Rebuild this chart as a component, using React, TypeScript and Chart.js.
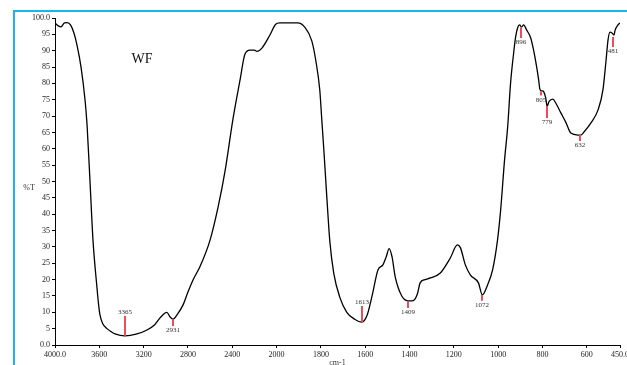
import React, { useEffect, useRef } from "react";
import { Chart, registerables, LinearScale } from "chart.js";

Chart.register(...registerables);

// ---- data ----
const wavenumbers: number[] = [
  4000, 3970, 3946, 3915, 3890, 3860, 3829, 3800, 3765, 3729, 3711, 3684, 3657, 3621, 3607,
  3594, 3570, 3531, 3490, 3458, 3368, 3260, 3170, 3100, 3052, 3007, 2990, 2962, 2935, 2899,
  2845, 2800, 2754, 2691, 2601, 2529, 2466, 2394, 2330, 2285, 2240, 2200, 2177, 2132, 2060,
  2010, 1986, 1905, 1873, 1841, 1823, 1805, 1796, 1787, 1773, 1760, 1742, 1714, 1683, 1646,
  1615, 1592, 1569, 1542, 1520, 1505, 1492, 1479, 1465, 1451, 1435, 1420, 1400, 1383, 1365,
  1352, 1330, 1306, 1261, 1216, 1184, 1170, 1148, 1125, 1089, 1071, 1048, 1025, 1003, 989,
  971, 957, 944, 930, 921, 912, 903, 894, 885, 871, 853, 840, 826, 817, 812,
  805, 799, 794, 785, 779, 770, 753, 740, 717, 694, 672, 640, 626, 613, 581,
  549, 527, 513, 504, 495, 486, 477, 472, 459, 450,
];
const transmittance: number[] = [
  98.5, 97.6, 97.3, 98.5, 98.6, 97.9, 95.4, 91.5, 85, 75, 67.5, 50, 32, 17.5, 12.5,
  9.2, 6.6, 5.0, 4.0, 3.4, 2.8, 3.4, 4.6, 6.2, 8.3, 9.8, 10.0, 8.6, 7.9, 9.2,
  12.2, 16.2, 19.9, 24, 32, 42, 53, 69, 81, 89, 90.2, 90.2, 89.8, 90.8, 94.8,
  98.0, 98.5, 98.5, 97.2, 93, 87, 78, 69, 60, 45, 32, 22, 14.5, 10, 7.8,
  7.0, 9, 15, 23, 24.5, 27, 29.5, 27, 21, 17.5, 15, 13.8, 13.5, 13.6, 15.5,
  19, 20, 20.5, 22, 26.6, 30.6, 29.7, 24.5, 21.4, 19, 15.3, 18.3, 23, 32, 41,
  56.6, 66.7, 80, 89.3, 94.2, 97, 97.9, 97.2, 97.9, 96.3, 93.9, 90.2, 85, 81, 78.3,
  77.7, 77.7, 77.4, 75.5, 73, 74.5, 75.2, 74, 71, 68, 64.8, 64.2, 64.2, 65.1, 67.9,
  71.9, 78, 87, 93.3, 95.7, 95.4, 94.8, 96.3, 97.9, 98.5,
];

const xTickValues: number[] = [4000, 3600, 3200, 2800, 2400, 2000, 1800, 1600, 1400, 1200, 1000, 800, 600, 450];
const yTickStep = 5;

const peakPositions: number[] = [3365, 2931, 1613, 1409, 1072, 896, 805, 779, 632, 481];
const peakCurveT: number[] = [2.8, 7.9, 7.0, 13.5, 15.3, 97.2, 77.6, 73.1, 64.2, 94.2];
const peakMarkT: number[] = [8.9, 5.8, 11.9, 11.3, 13.5, 93.9, 76.3, 69.4, 62.4, 91.1];

const sampleName = "WF";
const sampleNamePos = { x: 3215, y: 87.5 };
const yTitle = "%T";
const xTitle = "cm-1";

// ---- broken wavenumber axis (4000-2000 compressed 2x) ----
const X_HI = 4000;
const X_BREAK = 2000;
const X_LO = 450;
function toDecimal(v: number): number {
  const total = (X_HI - X_BREAK) / 2 + (X_BREAK - X_LO);
  const u = v >= X_BREAK ? (X_HI - v) / 2 : (X_HI - X_BREAK) / 2 + (X_BREAK - v);
  return u / total;
}
function fromDecimal(d: number): number {
  const total = (X_HI - X_BREAK) / 2 + (X_BREAK - X_LO);
  const u = d * total;
  const half = (X_HI - X_BREAK) / 2;
  return u <= half ? X_HI - u * 2 : X_BREAK - (u - half);
}

class BrokenWavenumberScale extends LinearScale {
  static id = "brokenWavenumber";
  static defaults = LinearScale.defaults;
  getPixelForValue(value: number) {
    return (this as any).getPixelForDecimal(toDecimal(value));
  }
  getValueForPixel(pixel: number) {
    return fromDecimal((this as any).getDecimalForPixel(pixel));
  }
}
Chart.register(BrokenWavenumberScale as any);

const FONT = "'Liberation Serif', 'Times New Roman', serif";

const decorPlugin = {
  id: "decor",
  beforeDraw(chart: any) {
    const ctx = chart.ctx;
    ctx.save();
    ctx.fillStyle = "#ffffff";
    ctx.fillRect(0, 0, chart.width, chart.height);
    ctx.fillStyle = "#1fb1ea";
    ctx.fillRect(13, 10, 2, chart.height);
    ctx.fillRect(13, 10, chart.width, 2);
    ctx.restore();
  },
  afterDatasetsDraw(chart: any) {
    const ctx = chart.ctx;
    const xs = chart.scales.x;
    const ys = chart.scales.y;
    const area = chart.chartArea;
    ctx.save();
    // peak markers
    peakPositions.forEach((p, i) => {
      const px = Math.round(xs.getPixelForValue(p));
      const y1 = ys.getPixelForValue(peakCurveT[i]);
      const y2 = ys.getPixelForValue(peakMarkT[i]);
      ctx.strokeStyle = "#ef4b58";
      ctx.lineWidth = 2;
      ctx.beginPath();
      ctx.moveTo(px, y1);
      ctx.lineTo(px, y2);
      ctx.stroke();
      ctx.fillStyle = "#333333";
      ctx.font = `7px ${FONT}`;
      ctx.textAlign = "center";
      const up = peakMarkT[i] > peakCurveT[i];
      if (up) {
        ctx.textBaseline = "bottom";
        ctx.fillText(String(p), px, y2 - 0.5);
      } else {
        ctx.textBaseline = "top";
        ctx.fillText(String(p), px, y2 + 1);
      }
    });
    // sample name
    ctx.fillStyle = "#111111";
    ctx.font = `14px ${FONT}`;
    ctx.textAlign = "center";
    ctx.textBaseline = "middle";
    ctx.fillText(sampleName, xs.getPixelForValue(sampleNamePos.x), ys.getPixelForValue(sampleNamePos.y));
    // axis titles
    ctx.fillStyle = "#333333";
    ctx.font = `8px ${FONT}`;
    ctx.fillText(yTitle, area.left - 26, (area.top + area.bottom) / 2 + 6);
    ctx.fillText(xTitle, (area.left + area.right) / 2, area.bottom + 18);
    ctx.restore();
  },
};

export default function App() {
  const canvasRef = useRef<HTMLCanvasElement | null>(null);

  useEffect(() => {
    if (!canvasRef.current) return;
    const points = wavenumbers.map((w, i) => ({ x: w, y: transmittance[i] }));
    const chart = new Chart(canvasRef.current, {
      type: "line",
      data: {
        datasets: [
          {
            data: points,
            borderColor: "#000000",
            borderWidth: 1.3,
            pointRadius: 0,
            fill: false,
            tension: 0.4,
            cubicInterpolationMode: "monotone",
          } as any,
        ],
      },
      options: {
        animation: false,
        responsive: false,
        devicePixelRatio: 1,
        layout: { padding: { left: 0, top: 18, right: 30, bottom: 0 } },
        plugins: {
          legend: { display: false },
          tooltip: { enabled: false },
          title: { display: false },
        },
        scales: {
          x: {
            type: "brokenWavenumber" as any,
            min: X_LO,
            max: X_HI,
            afterBuildTicks: (scale: any) => {
              scale.ticks = xTickValues.map((v) => ({ value: v }));
            },
            afterFit: (scale: any) => {
              scale.height = 35;
            },
            border: { display: true, color: "#000000", width: 1 },
            grid: { display: true, drawOnChartArea: false, drawTicks: true, tickLength: 3, color: "#000000" },
            ticks: {
              autoSkip: false,
              maxRotation: 0,
              padding: 2,
              color: "#222222",
              font: { family: FONT, size: 8 },
              callback: (v: any) => (v === X_HI || v === X_LO ? Number(v).toFixed(1) : String(v)),
            },
          } as any,
          y: {
            type: "linear",
            min: 0,
            max: 100,
            afterFit: (scale: any) => {
              scale.width = 55;
            },
            border: { display: true, color: "#000000", width: 1 },
            grid: { display: true, drawOnChartArea: false, drawTicks: true, tickLength: 3, color: "#000000" },
            ticks: {
              stepSize: yTickStep,
              padding: 2,
              color: "#222222",
              font: { family: FONT, size: 8 },
              callback: (v: any) => (v === 0 || v === 100 ? Number(v).toFixed(1) : String(v)),
            },
          },
        },
      },
      plugins: [decorPlugin],
    });
    return () => chart.destroy();
  }, []);

  return (
    <div style={{ position: "fixed", left: 0, top: 0, width: 627, height: 365, overflow: "hidden", background: "#fff" }}>
      <canvas ref={canvasRef} width={650} height={380} style={{ width: 650, height: 380, display: "block" }} />
    </div>
  );
}
